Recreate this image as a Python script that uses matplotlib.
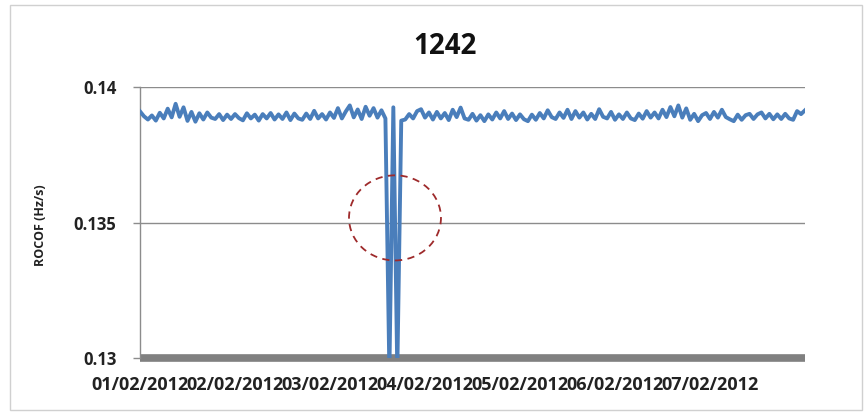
import matplotlib
matplotlib.use("Agg")
import matplotlib.pyplot as plt
from matplotlib.patches import Ellipse, Rectangle
import numpy as np

title = "1242"
ylabel = "ROCOF (Hz/s)"
tick_labels = ["01/02/2012", "02/02/2012", "03/02/2012", "04/02/2012",
               "05/02/2012", "06/02/2012", "07/02/2012"]
y_ticks = [0.13, 0.135, 0.14]
y_tick_labels = ["0.13", "0.135", "0.14"]

# hourly ROCOF values (Hz/s), 01/02 00:00 .. 08/02 00:00
rocof = [
    0.13910, 0.13892, 0.13880, 0.13895, 0.13876, 0.13905, 0.13884, 0.13920,
    0.13888, 0.13938, 0.13890, 0.13925, 0.13875, 0.13908, 0.13872, 0.13903,
    0.13880, 0.13906, 0.13887, 0.13882, 0.13900, 0.13878, 0.13898, 0.13882,
    0.13900, 0.13885, 0.13877, 0.13903, 0.13884, 0.13898, 0.13876, 0.13900,
    0.13884, 0.13904, 0.13880, 0.13899, 0.13882, 0.13906, 0.13878, 0.13902,
    0.13884, 0.13879, 0.13902, 0.13882, 0.13912, 0.13884, 0.13900, 0.13880,
    0.13906, 0.13886, 0.13922, 0.13884, 0.13910, 0.13932, 0.13888, 0.13917,
    0.13882, 0.13927, 0.13894, 0.13922, 0.13887, 0.13914, 0.13884, 0.12950,
    0.13925, 0.12950, 0.13876, 0.13880, 0.13900, 0.13884, 0.13911, 0.13918,
    0.13887, 0.13906, 0.13880, 0.13908, 0.13884, 0.13904, 0.13878, 0.13916,
    0.13889, 0.13924, 0.13884, 0.13879, 0.13901, 0.13876, 0.13896, 0.13874,
    0.13899, 0.13880, 0.13906, 0.13884, 0.13911, 0.13882, 0.13902, 0.13878,
    0.13899, 0.13881, 0.13874, 0.13898, 0.13879, 0.13904, 0.13884, 0.13914,
    0.13889, 0.13882, 0.13906, 0.13886, 0.13916, 0.13882, 0.13911, 0.13887,
    0.13906, 0.13880, 0.13901, 0.13882, 0.13918, 0.13890, 0.13884, 0.13908,
    0.13879, 0.13899, 0.13882, 0.13906, 0.13884, 0.13878, 0.13902, 0.13883,
    0.13911, 0.13887, 0.13906, 0.13884, 0.13916, 0.13889, 0.13926, 0.13892,
    0.13932, 0.13887, 0.13921, 0.13879, 0.13901, 0.13874, 0.13896, 0.13904,
    0.13882, 0.13908, 0.13887, 0.13916, 0.13889, 0.13881, 0.13874, 0.13898,
    0.13879, 0.13896, 0.13901, 0.13882, 0.13899, 0.13906, 0.13884, 0.13901,
    0.13881, 0.13899, 0.13882, 0.13901, 0.13884, 0.13879, 0.13911, 0.13900,
    0.13914,
]
hours = np.arange(len(rocof))
days = hours / 24.0

W, H = 866, 417
fig = plt.figure(figsize=(W / 100, H / 100), dpi=100)
fig.patch.set_facecolor("white")
fig.patches.append(Rectangle((10 / W, 1 - 410 / H), 852 / W, 405 / H,
                             transform=fig.transFigure, fill=False,
                             edgecolor="#D0D0D0", linewidth=1.0))

ax = fig.add_axes([140 / W, 1 - 358 / H, 665 / W, 271 / H])
ax.plot(days, rocof, color="#4A7EBB", linewidth=2.8, zorder=3,
        solid_joinstyle="round")

ax.set_xlim(0, 7)
ax.set_ylim(0.13, 0.14)
ax.set_yticks(y_ticks)
ax.set_yticklabels(y_tick_labels)
ax.set_xticks(np.arange(len(tick_labels)))
ax.set_xticklabels(tick_labels)

FONT = "Open Sans"
for t in ax.get_xticklabels():
    t.set_fontfamily(FONT)
    t.set_fontweight("bold")
    t.set_fontsize(13.0)
    t.set_color("#222222")
for t in ax.get_yticklabels():
    t.set_fontfamily(FONT)
    t.set_fontweight("bold")
    t.set_fontsize(12)
    t.set_color("#222222")

ax.tick_params(axis="x", length=0, pad=13)
ax.tick_params(axis="y", length=5, color="#8C8C8C", width=1, pad=12)

ax.yaxis.grid(True, color="#8C8C8C", linewidth=1.0)
ax.set_axisbelow(True)

for s in ("top", "right"):
    ax.spines[s].set_visible(False)
ax.spines["left"].set_color("#8C8C8C")
ax.spines["left"].set_linewidth(1.0)
ax.spines["bottom"].set_color("#808080")
ax.spines["bottom"].set_linewidth(5.5)
ax.spines["bottom"].set_capstyle("butt")
ax.spines["bottom"].set_zorder(2)

ell = Ellipse((2.684, 0.13517), 0.968, 0.00314, fill=False,
              edgecolor="#9E2A2B", linewidth=1.3, linestyle=(0, (4, 3)), zorder=4)
ax.add_patch(ell)

fig.text(445 / W, 1 - 46 / H, title, ha="center", va="center",
         fontfamily=FONT, fontweight="bold", fontsize=20, color="#111111")
fig.text(40 / W, 1 - 225 / H, ylabel, ha="center", va="center", rotation=90,
         fontfamily=FONT, fontweight="bold", fontsize=9, color="#222222")

fig.savefig("out.png", dpi=100, facecolor="white")
